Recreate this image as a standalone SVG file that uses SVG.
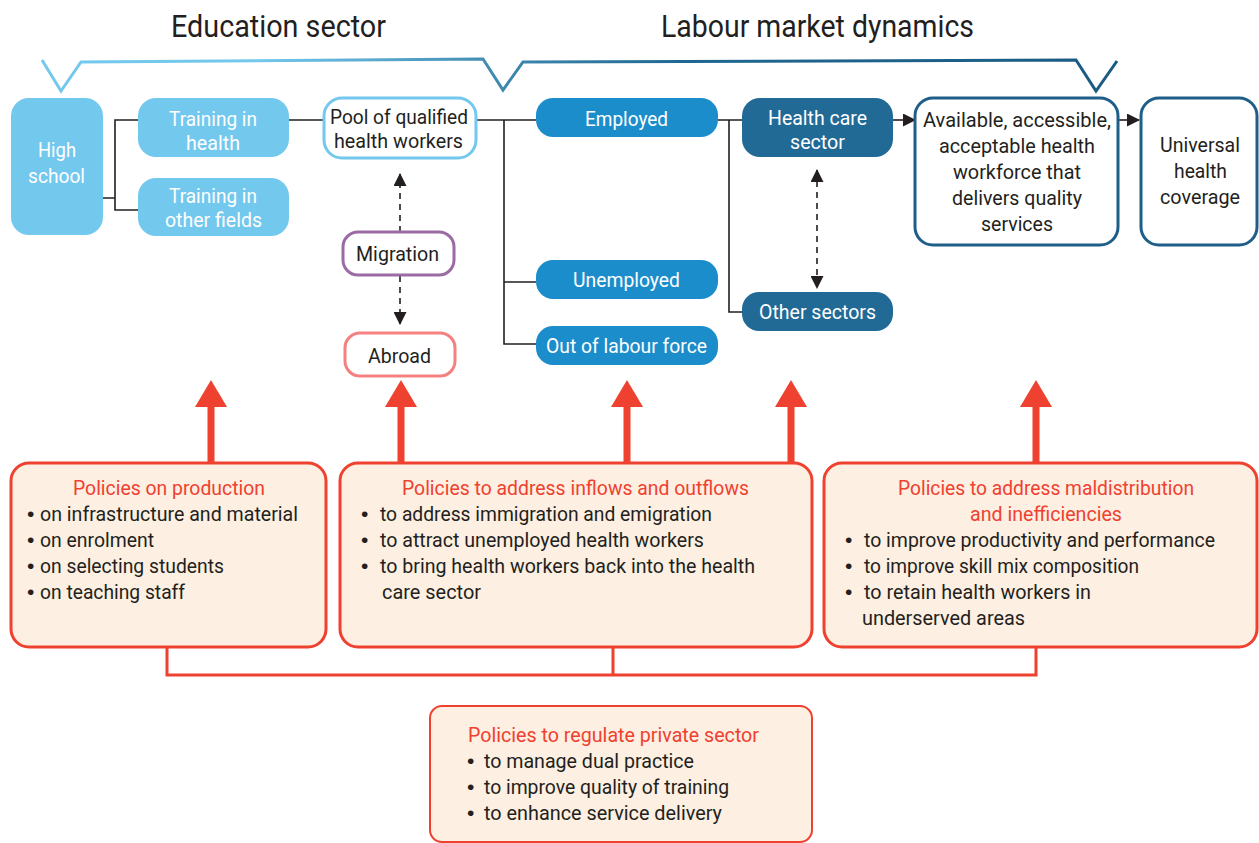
<svg xmlns="http://www.w3.org/2000/svg" width="1259" height="843" viewBox="0 0 1259 843">
<style>
text{font-family:Roboto,"Liberation Sans",sans-serif;font-size:21px;fill:#231f20}
.title{font-size:31px}
.w{fill:#fff}
.r{fill:#ef4130}
.b{font-family:"Liberation Sans",sans-serif;font-size:21px}
.lb{fill:#73c8ee}
.mb{fill:#1c8dcb}
.db{fill:#226a96}
.o{fill:#fff;stroke-width:3}
.p{fill:#fdefe1;stroke:#ef4130;stroke-width:3}
.p2{fill:#fdefe1;stroke:#ef4130;stroke-width:2}
.c{fill:none;stroke:#231f20;stroke-width:1.6}
.d{fill:none;stroke:#231f20;stroke-width:1.6;stroke-dasharray:6 5}
.rl{fill:none;stroke:#ef4130;stroke-width:3}
.ra{fill:none;stroke:#ef4130;stroke-width:7}
</style>
<defs>
<linearGradient id="g" gradientUnits="userSpaceOnUse" x1="42" y1="0" x2="1117" y2="0">
<stop offset="0" stop-color="#73c8ee"/><stop offset="0.2" stop-color="#73c8ee"/><stop offset="0.43" stop-color="#3f87ad"/><stop offset="0.6" stop-color="#1f6792"/><stop offset="1" stop-color="#1a5a83"/>
</linearGradient>
<marker id="h" markerUnits="userSpaceOnUse" markerWidth="13" markerHeight="13" refX="12" refY="6.5" orient="auto-start-reverse"><path d="M0 0L13 6.5L0 13Z" fill="#231f20"/></marker>
<path id="rh" d="M-16 27L0 0L16 27Z" fill="#ef4130"/>
</defs>
<text class="title" x="171" y="37" textLength="215" lengthAdjust="spacingAndGlyphs">Education sector</text>
<text class="title" x="661" y="37" textLength="313" lengthAdjust="spacingAndGlyphs">Labour market dynamics</text>
<g id="connectors">
<path d="M42 60L61 91L81 62L483 59L503 90L523 62L1076 60L1096 91L1117 61" fill="none" stroke="url(#g)" stroke-width="3"/>
<path class="c" d="M103 198H115M138 120H115V210H138M289 120H324M476 120H536M504 120V344H536M504 282H536M718 120H742M729 120V312H742"/>
<path class="c" d="M893 120H915" marker-end="url(#h)"/>
<path class="c" d="M1118 120H1139" marker-end="url(#h)"/>
<path class="d" d="M400 232V174" marker-end="url(#h)"/>
<path class="d" d="M400 276V324" marker-end="url(#h)"/>
<path class="d" d="M817 170V288" marker-start="url(#h)" marker-end="url(#h)"/>
<path class="ra" d="M211 462V405M401 462V405M627 462V405M791 462V405M1036 462V405"/>
<use href="#rh" x="211" y="380"/><use href="#rh" x="401" y="380"/><use href="#rh" x="627" y="380"/><use href="#rh" x="791" y="380"/><use href="#rh" x="1036" y="380"/>
<path class="rl" d="M167 647V675H1036V647M613 647V675"/>
</g>
<g id="high-school"><rect class="lb" x="11" y="98" width="92" height="137" rx="18"/>
<text class="w" x="38" y="157" textLength="38" lengthAdjust="spacingAndGlyphs">High</text>
<text class="w" x="28" y="183" textLength="57" lengthAdjust="spacingAndGlyphs">school</text></g>
<g id="training-health"><rect class="lb" x="138" y="98" width="151" height="59" rx="18"/>
<text class="w" x="169" y="126" textLength="88" lengthAdjust="spacingAndGlyphs">Training in</text>
<text class="w" x="186" y="150" textLength="54" lengthAdjust="spacingAndGlyphs">health</text></g>
<g id="training-other"><rect class="lb" x="138" y="178" width="151" height="58" rx="18"/>
<text class="w" x="169" y="203" textLength="88" lengthAdjust="spacingAndGlyphs">Training in</text>
<text class="w" x="165" y="227" textLength="97" lengthAdjust="spacingAndGlyphs">other fields</text></g>
<g id="pool"><rect class="o" x="324" y="98" width="152" height="60" rx="18" stroke="#73c8ee"/>
<text x="330" y="124" textLength="138" lengthAdjust="spacingAndGlyphs">Pool of qualified</text>
<text x="334" y="148" textLength="129" lengthAdjust="spacingAndGlyphs">health workers</text></g>
<g id="migration"><rect class="o" x="343" y="232" width="111" height="43" rx="15" stroke="#9b6ba3"/>
<text x="356" y="261" textLength="83" lengthAdjust="spacingAndGlyphs">Migration</text></g>
<g id="abroad"><rect class="o" x="345" y="333" width="110" height="43" rx="15" stroke="#f58080"/>
<text x="368" y="363" textLength="63" lengthAdjust="spacingAndGlyphs">Abroad</text></g>
<g id="employed"><rect class="mb" x="536" y="98" width="182" height="39" rx="17"/>
<text class="w" x="585" y="126" textLength="83" lengthAdjust="spacingAndGlyphs">Employed</text></g>
<g id="unemployed"><rect class="mb" x="536" y="260" width="182" height="39" rx="17"/>
<text class="w" x="573" y="287" textLength="107" lengthAdjust="spacingAndGlyphs">Unemployed</text></g>
<g id="out-of-labour"><rect class="mb" x="536" y="326" width="182" height="39" rx="17"/>
<text class="w" x="546" y="353" textLength="161" lengthAdjust="spacingAndGlyphs">Out of labour force</text></g>
<g id="health-care"><rect class="db" x="742" y="98" width="151" height="59" rx="18"/>
<text class="w" x="768" y="125" textLength="99" lengthAdjust="spacingAndGlyphs">Health care</text>
<text class="w" x="790" y="149" textLength="55" lengthAdjust="spacingAndGlyphs">sector</text></g>
<g id="other-sectors"><rect class="db" x="742" y="292" width="151" height="39" rx="17"/>
<text class="w" x="759" y="319" textLength="117" lengthAdjust="spacingAndGlyphs">Other sectors</text></g>
<g id="available"><rect class="o" x="915" y="98" width="203" height="147" rx="18" stroke="#1e5e88"/>
<text x="923" y="127" textLength="188" lengthAdjust="spacingAndGlyphs">Available, accessible,</text>
<text x="939" y="153" textLength="156" lengthAdjust="spacingAndGlyphs">acceptable health</text>
<text x="953" y="179" textLength="128" lengthAdjust="spacingAndGlyphs">workforce that</text>
<text x="952" y="205" textLength="130" lengthAdjust="spacingAndGlyphs">delivers quality</text>
<text x="981" y="231" textLength="72" lengthAdjust="spacingAndGlyphs">services</text></g>
<g id="uhc"><rect class="o" x="1141" y="98" width="116" height="147" rx="18" stroke="#1e5e88"/>
<text x="1160" y="152" textLength="80" lengthAdjust="spacingAndGlyphs">Universal</text>
<text x="1174" y="178" textLength="53" lengthAdjust="spacingAndGlyphs">health</text>
<text x="1160" y="204" textLength="80" lengthAdjust="spacingAndGlyphs">coverage</text></g>
<g id="policy-production"><rect class="p" x="11" y="463" width="315" height="184" rx="18"/>
<text class="r" x="73" y="495" textLength="192" lengthAdjust="spacingAndGlyphs">Policies on production</text>
<text class="b" x="27" y="521">•</text><text x="40" y="521" textLength="258" lengthAdjust="spacingAndGlyphs">on infrastructure and material</text>
<text class="b" x="27" y="547">•</text><text x="40" y="547" textLength="114" lengthAdjust="spacingAndGlyphs">on enrolment</text>
<text class="b" x="27" y="573">•</text><text x="40" y="573" textLength="184" lengthAdjust="spacingAndGlyphs">on selecting students</text>
<text class="b" x="27" y="599">•</text><text x="40" y="599" textLength="145" lengthAdjust="spacingAndGlyphs">on teaching staff</text></g>
<g id="policy-flows"><rect class="p" x="340" y="463" width="472" height="184" rx="18"/>
<text class="r" x="402" y="495" textLength="347" lengthAdjust="spacingAndGlyphs">Policies to address inflows and outflows</text>
<text class="b" x="361" y="521">•</text><text x="380" y="521" textLength="332" lengthAdjust="spacingAndGlyphs">to address immigration and emigration</text>
<text class="b" x="361" y="547">•</text><text x="380" y="547" textLength="324" lengthAdjust="spacingAndGlyphs">to attract unemployed health workers</text>
<text class="b" x="361" y="573">•</text><text x="380" y="573" textLength="375" lengthAdjust="spacingAndGlyphs">to bring health workers back into the health</text>
<text x="382" y="599" textLength="99" lengthAdjust="spacingAndGlyphs">care sector</text></g>
<g id="policy-maldistribution"><rect class="p" x="824" y="463" width="433" height="184" rx="18"/>
<text class="r" x="898" y="495" textLength="296" lengthAdjust="spacingAndGlyphs">Policies to address maldistribution</text>
<text class="r" x="970" y="521" textLength="152" lengthAdjust="spacingAndGlyphs">and inefficiencies</text>
<text class="b" x="845" y="547">•</text><text x="864" y="547" textLength="351" lengthAdjust="spacingAndGlyphs">to improve productivity and performance</text>
<text class="b" x="845" y="573">•</text><text x="864" y="573" textLength="275" lengthAdjust="spacingAndGlyphs">to improve skill mix composition</text>
<text class="b" x="845" y="599">•</text><text x="864" y="599" textLength="227" lengthAdjust="spacingAndGlyphs">to retain health workers in</text>
<text x="862" y="625" textLength="163" lengthAdjust="spacingAndGlyphs">underserved areas</text></g>
<g id="policy-private"><rect class="p2" x="430" y="706" width="382" height="136" rx="12"/>
<text class="r" x="468" y="742" textLength="291" lengthAdjust="spacingAndGlyphs">Policies to regulate private sector</text>
<text class="b" x="467" y="768">•</text><text x="484" y="768" textLength="210" lengthAdjust="spacingAndGlyphs">to manage dual practice</text>
<text class="b" x="467" y="794">•</text><text x="484" y="794" textLength="245" lengthAdjust="spacingAndGlyphs">to improve quality of training</text>
<text class="b" x="467" y="820">•</text><text x="484" y="820" textLength="238" lengthAdjust="spacingAndGlyphs">to enhance service delivery</text></g>
</svg>
